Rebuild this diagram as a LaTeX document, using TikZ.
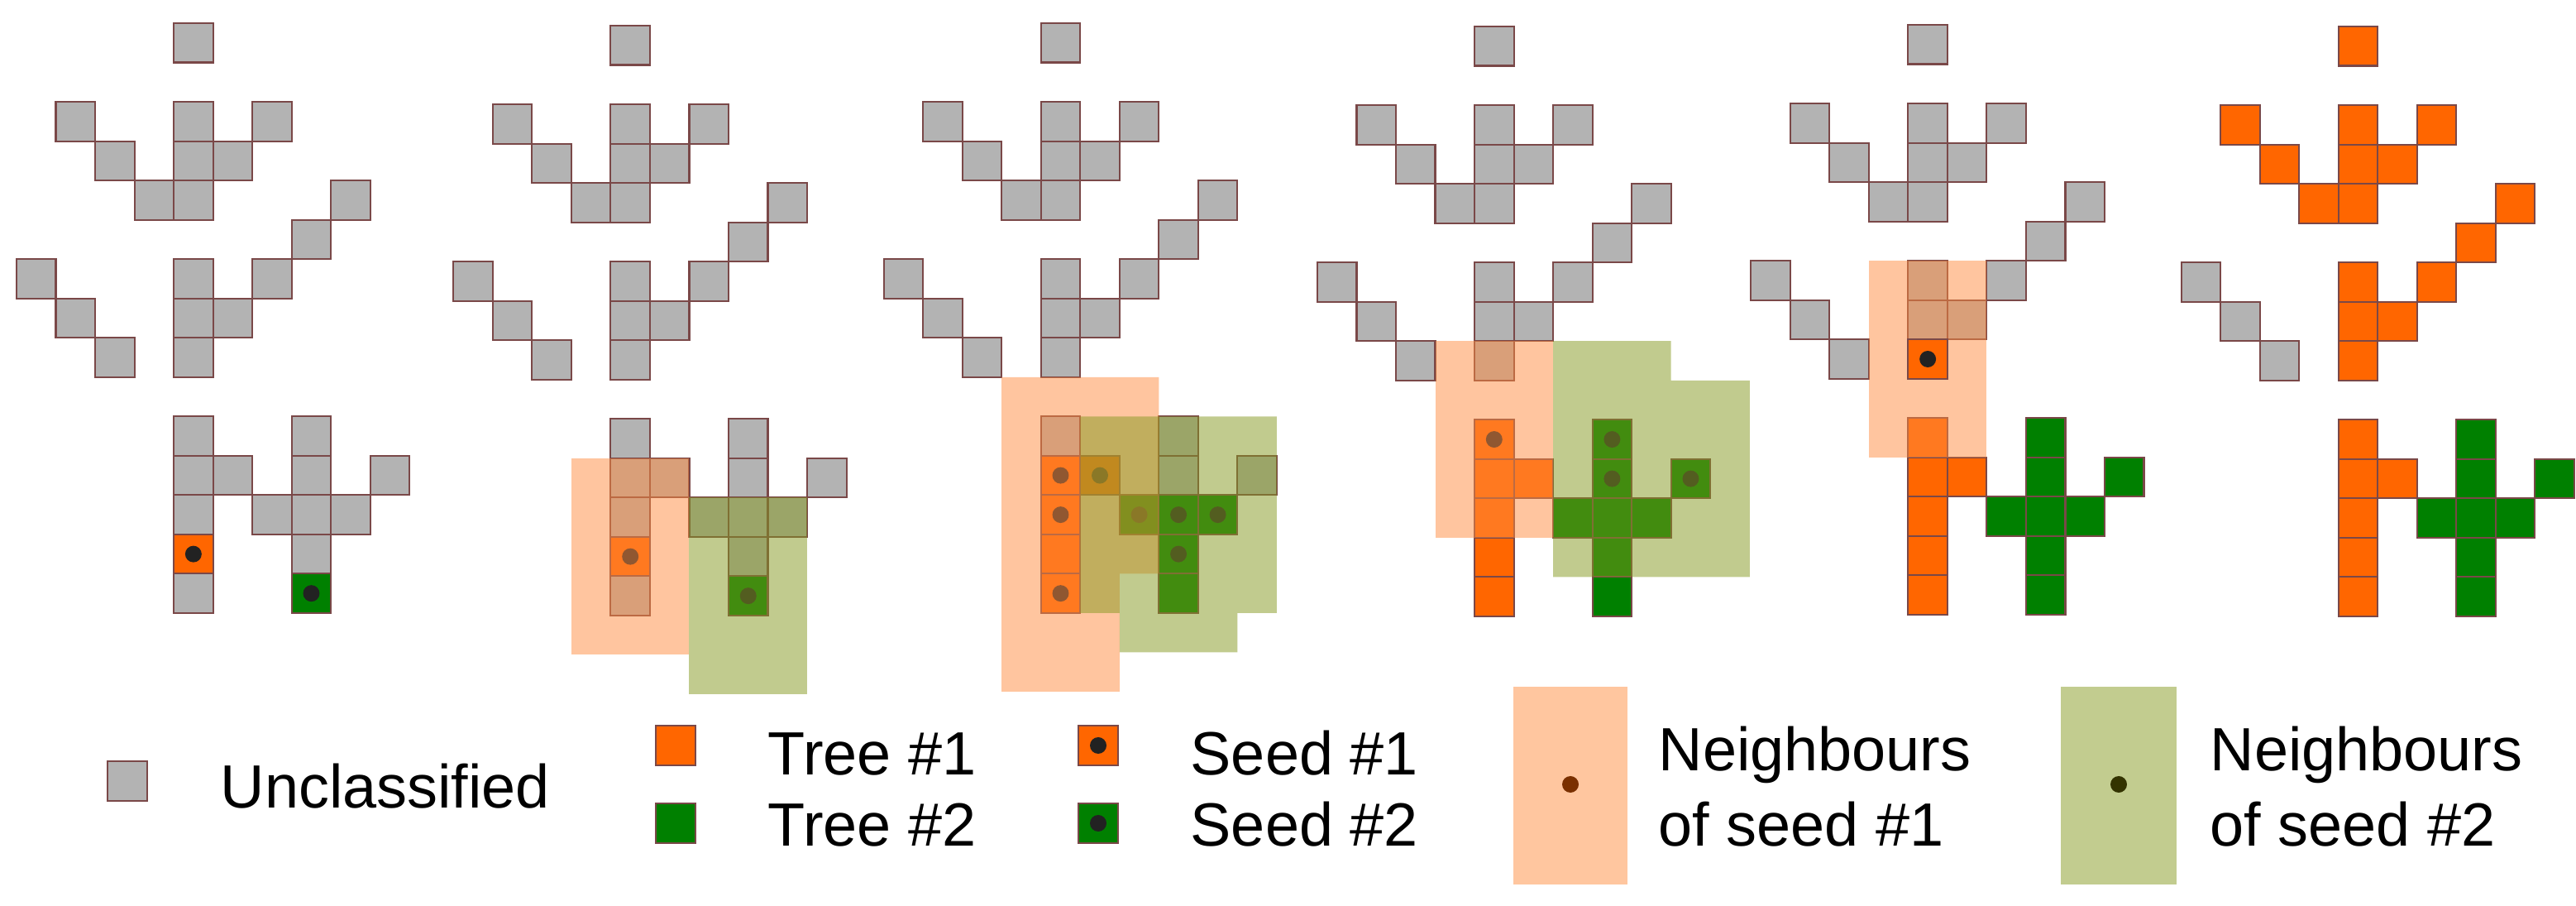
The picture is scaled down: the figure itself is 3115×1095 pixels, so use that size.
\documentclass[tikz,border=0pt]{standalone}
\usepackage{fontspec}
\setmainfont{Liberation Sans}
\definecolor{cgray}{HTML}{B3B3B3}
\definecolor{cborder}{HTML}{7A4848}
\definecolor{corange}{HTML}{FF6600}
\definecolor{cgreen}{HTML}{008000}
\definecolor{ovor}{HTML}{FF8C40}
\definecolor{ovgr}{HTML}{85991F}
\definecolor{cdot}{HTML}{222222}
\definecolor{dotor}{HTML}{7A3000}
\definecolor{dotgr}{HTML}{333300}
\tikzset{
  cellbase/.style={draw=cborder,line width=0.6pt},
  ug/.style={cellbase,fill=cgray},
  t1/.style={cellbase,fill=corange},
  t2/.style={cellbase,fill=cgreen},
  sd/.style={fill=cdot},
  ov1/.style={fill=ovor,fill opacity=0.5},
  ov2/.style={fill=ovgr,fill opacity=0.5},
  lab/.style={font=\fontsize{21}{25}\selectfont,anchor=base west,inner sep=0pt}
}
\newcommand\cG[1]{\edef\mylist{#1}\foreach \c/\r in \mylist{\draw[ug] (\c,\r) rectangle ++(1,1);}}
\newcommand\cO[1]{\edef\mylist{#1}\foreach \c/\r in \mylist{\draw[t1] (\c,\r) rectangle ++(1,1);}}
\newcommand\cT[1]{\edef\mylist{#1}\foreach \c/\r in \mylist{\draw[t2] (\c,\r) rectangle ++(1,1);}}
\newcommand\cS[1]{\edef\mylist{#1}\foreach \c/\r in \mylist{\fill[sd] (\c+0.5,\r+0.5) circle (0.21);}}
\newcommand\topall{4/0,1/2,4/2,6/2,2/3,4/3,5/3,3/4,4/4,8/4,7/5,0/6,4/6,6/6,1/7,4/7,5/7,2/8,4/8}
\newcommand\topor{4/0,1/2,4/2,6/2,2/3,4/3,5/3,3/4,4/4,8/4,7/5,4/6,6/6,4/7,5/7,4/8}
\newcommand\treeA{4/10,4/11,4/12,4/13,4/14,5/11}
\newcommand\treeB{6/12,7/10,7/11,7/12,7/13,7/14,8/12,9/11}
\begin{document}
\begin{tikzpicture}[x=0.01cm,y=-0.01cm]
\useasboundingbox[fill=white] (0,0) rectangle (3115,1095);
% Panel 1
\begin{scope}[shift={(0.20cm,-0.28cm)},x=0.475cm,y=-0.475cm]
\cG{\topall}
\cG{4/10,4/11,4/12,4/14,5/11,6/12,7/10,7/11,7/12,7/13,8/12,9/11}
\cO{4/13}\cT{7/14}\cS{4/13,7/14}
\end{scope}
% Panel 2
\begin{scope}[shift={(5.48cm,-0.31cm)},x=0.475cm,y=-0.475cm]
\cG{\topall}
\cG{4/10,4/11,4/12,4/14,5/11,6/12,7/10,7/11,7/12,7/13,8/12,9/11}
\cO{4/13}\cT{7/14}\cS{4/13,7/14}
\fill[ov1] (3,11) rectangle (6,16);
\fill[ov2] (6,12) rectangle (9,17);
\end{scope}
% Panel 3
\begin{scope}[shift={(10.68cm,-0.28cm)},x=0.475cm,y=-0.475cm]
\cG{\topall}
\cG{4/10,7/10,7/11,9/11}
\cO{4/11,4/12,4/13,4/14,5/11}
\cT{6/12,7/12,7/13,7/14,8/12}
\cS{4/11,5/11,4/12,4/14,6/12,7/12,7/13,8/12}
\fill[ov1] (3,9) -- (7,9) -- (7,14) -- (6,14) -- (6,17) -- (3,17) -- cycle;
\fill[ov2] (5,10) -- (10,10) -- (10,15) -- (9,15) -- (9,16) -- (6,16) -- (6,15) -- (5,15) -- cycle;
\end{scope}
% Panel 4
\begin{scope}[shift={(15.92cm,-0.32cm)},x=0.475cm,y=-0.475cm]
\cG{\topall}
\cO{\treeA}\cT{\treeB}
\cS{4/10,7/10,7/11,9/11}
\fill[ov1] (3,8) rectangle (6,13);
\fill[ov2] (6,8) -- (9,8) -- (9,9) -- (11,9) -- (11,14) -- (6,14) -- cycle;
\end{scope}
% Panel 5
\begin{scope}[shift={(21.16cm,-0.30cm)},x=0.475cm,y=-0.475cm]
\cG{\topall}
\cO{\treeA}\cT{\treeB}
\fill[ov1] (3,6) rectangle (6,11);
\cO{4/8}\cS{4/8}
\end{scope}
% Panel 6
\begin{scope}[shift={(26.36cm,-0.32cm)},x=0.475cm,y=-0.475cm]
\cG{0/6,1/7,2/8}
\cO{\topor}
\cO{\treeA}\cT{\treeB}
\end{scope}
% Legend
\draw[ug] (130,920) rectangle (178,968);
\node[lab] (lu) at (266,977) {Unclassified};
\draw[t1] (793,877) rectangle (841,925);
\node[lab] (lt1) at (928,937) {Tree \#1};
\draw[t2] (793,971) rectangle (841,1019);
\node[lab] (lt2) at (928,1023) {Tree \#2};
\draw[t1] (1304,877) rectangle (1352,925);
\fill[sd] (1328,901) circle (10);
\node[lab] (ls1) at (1439,937) {Seed \#1};
\draw[t2] (1304,971) rectangle (1352,1019);
\fill[sd] (1328,995) circle (10);
\node[lab] (ls2) at (1439,1023) {Seed \#2};
\fill[ovor!50] (1830,830) rectangle (1968,1069);
\fill[dotor] (1899,948) circle (10);
\node[lab] (ln1a) at (2005,932) {Neighbours};
\node[lab] (ln1b) at (2005,1023) {of seed \#1};
\fill[ovgr!50] (2492,830) rectangle (2632,1069);
\fill[dotgr] (2562,948) circle (10);
\node[lab] (ln2a) at (2672,932) {Neighbours};
\node[lab] (ln2b) at (2672,1023) {of seed \#2};
\end{tikzpicture}
\end{document}
